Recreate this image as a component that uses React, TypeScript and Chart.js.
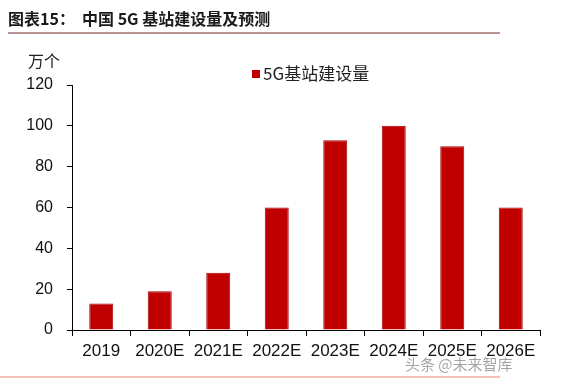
import React, { useEffect, useRef } from "react";
import { Chart, registerables } from "chart.js";

Chart.register(...registerables);

const categories = ["2019", "2020E", "2021E", "2022E", "2023E", "2024E", "2025E", "2026E"];
const stations = [13, 19, 28, 60, 93, 100, 90, 60];
const seriesName = "5G基站建设量";
const unitLabel = "万个";
const titlePrefix = "图表15：";
const titleText = "中国 5G 基站建设量及预测";
const watermark = "头条 @未来智库";

const BAR = "#c00000";
const CJK = '"Noto Sans CJK SC", "Liberation Sans", sans-serif';
const LAT = '"Liberation Sans", Arial, sans-serif';

const decor = {
  id: "decor",
  afterDraw(chart: any) {
    const ctx = chart.ctx;
    ctx.save();
    // title
    ctx.fillStyle = "#1a1a1a";
    ctx.textBaseline = "middle";
    ctx.textAlign = "left";
    ctx.font = "bold 16px " + CJK;
    ctx.fillText(titlePrefix, 8, 19);
    ctx.fillText(titleText, 82, 19);
    // title underline
    ctx.strokeStyle = "#b99595";
    ctx.lineWidth = 2;
    ctx.beginPath();
    ctx.moveTo(8, 33);
    ctx.lineTo(500, 33);
    ctx.stroke();
    // bottom line
    ctx.strokeStyle = "#efc2b4";
    ctx.lineWidth = 2;
    ctx.beginPath();
    ctx.moveTo(0, 377);
    ctx.lineTo(500, 377);
    ctx.stroke();
    // unit
    ctx.fillStyle = "#222";
    ctx.font = "16px " + CJK;
    ctx.fillText(unitLabel, 28, 61);
    // legend
    ctx.fillStyle = BAR;
    ctx.fillRect(252, 70, 8, 8);
    ctx.fillStyle = "#222";
    ctx.font = "17px " + CJK;
    ctx.fillText(seriesName, 263, 74);
    // watermark
    ctx.fillStyle = "rgba(90,90,90,0.55)";
    ctx.font = "15px " + CJK;
    ctx.fillText(watermark, 405, 364);
    ctx.restore();
  },
};

export default function App() {
  const ref = useRef<HTMLCanvasElement>(null);
  useEffect(() => {
    if (!ref.current) return;
    const chart = new Chart(ref.current, {
      type: "bar",
      data: {
        labels: categories,
        datasets: [
          {
            label: seriesName,
            data: stations,
            backgroundColor: BAR,
            borderColor: "#a80000",
            borderWidth: 1,
            barPercentage: 0.41,
            categoryPercentage: 1,
          },
        ],
      },
      options: {
        animation: false,
        responsive: false,
        devicePixelRatio: 1,
        layout: { padding: { left: 0, top: 85, right: 48, bottom: 0 } },
        plugins: {
          legend: { display: false },
          title: { display: false },
          tooltip: { enabled: false },
        },
        scales: {
          x: {
            afterFit(scale: any) {
              scale.height = 50;
            },
            grid: {
              drawOnChartArea: false,
              drawTicks: true,
              tickLength: 6,
              color: "#000",
              offset: true,
            },
            border: { display: true, color: "#000", width: 1 },
            ticks: {
              color: "#111",
              font: { family: LAT, size: 17 },
              padding: 5,
              maxRotation: 0,
              autoSkip: false,
            },
          },
          y: {
            min: 0,
            max: 120,
            afterFit(scale: any) {
              scale.width = 72;
            },
            grid: {
              drawOnChartArea: false,
              drawTicks: true,
              tickLength: 5,
              color: "#000",
            },
            border: { display: true, color: "#000", width: 1 },
            ticks: {
              stepSize: 20,
              color: "#111",
              font: { family: LAT, size: 16 },
              padding: 14,
            },
          },
        },
      },
      plugins: [decor],
    });
    return () => chart.destroy();
  }, []);
  return (
    <div style={{ position: "fixed", left: 0, top: 0, width: 588, height: 380, background: "#fff" }}>
      <canvas ref={ref} width={588} height={380} style={{ width: 588, height: 380 }} />
    </div>
  );
}
